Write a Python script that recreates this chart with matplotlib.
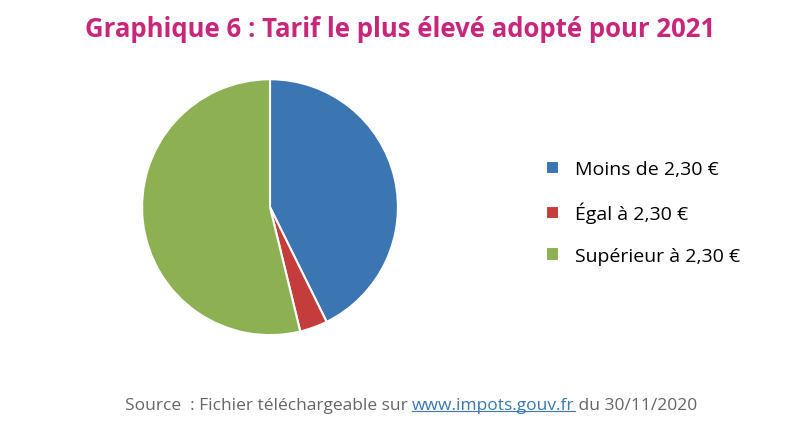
import matplotlib.pyplot as plt

categories = ['Moins de 2,30 €', 'Égal à 2,30 €', 'Supérieur à 2,30 €']
valeurs = [42.7, 3.5, 53.8]
couleurs = ['#3b76b3', '#c43d3c', '#8db152']

fig = plt.figure(figsize=(8, 4.27), dpi=100)
fig.patch.set_facecolor('white')
ax = fig.add_axes([0.1375, 0.138, 0.4, 0.749])
wedges, _ = ax.pie(valeurs, colors=couleurs, startangle=90, counterclock=False,
                   wedgeprops={'edgecolor': 'white', 'linewidth': 1.5})
ax.set_aspect('equal')

fig.text(0.5, 0.93, 'Graphique 6 : Tarif le plus élevé adopté pour 2021',
         ha='center', va='center', fontsize=18.5, color='#c8267a',
         family='Open Sans', fontweight='bold')

fig.legend(wedges, categories, loc='center left', bbox_to_anchor=(0.66, 0.5),
           frameon=False, handlelength=0.7, handleheight=0.7,
           labelspacing=1.2, prop={'family': 'Open Sans', 'size': 14})

fig.text(0.515, 0.05, 'Source  : Fichier téléchargeable sur ', ha='right', va='center',
         fontsize=12.5, color='#666666', family='Open Sans')
t = fig.text(0.515, 0.05, 'www.impots.gouv.fr', ha='left', va='center',
             fontsize=12.5, color='#3b76b3', family='Open Sans')
fig.canvas.draw()
bb = t.get_window_extent().transformed(fig.transFigure.inverted())
fig.add_artist(plt.Line2D([bb.x0, bb.x1], [bb.y0 + 0.005, bb.y0 + 0.005],
                          color='#3b76b3', linewidth=0.8, transform=fig.transFigure))
fig.text(bb.x1, 0.05, ' du 30/11/2020', ha='left', va='center',
         fontsize=12.5, color='#666666', family='Open Sans')

fig.savefig('out.png', dpi=100)
